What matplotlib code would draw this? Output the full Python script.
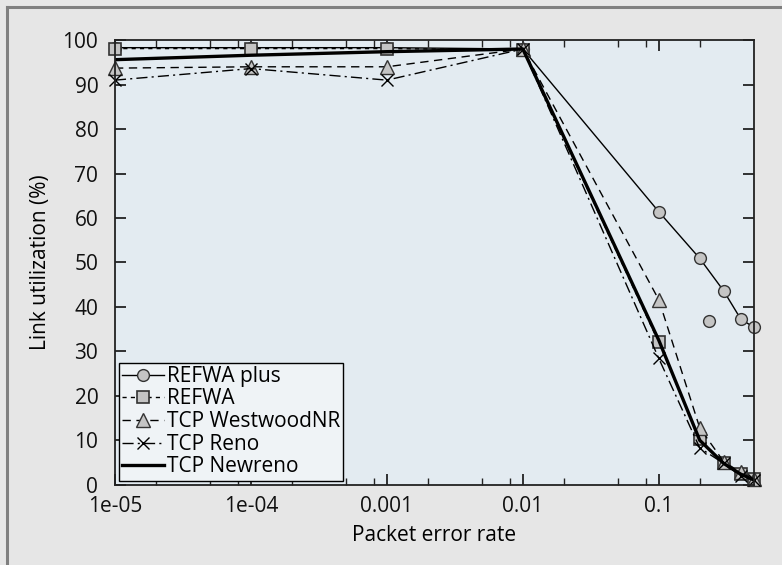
import numpy as np
import matplotlib.pyplot as plt
from matplotlib.lines import Line2D
from matplotlib.ticker import FixedLocator, FixedFormatter

plt.rcParams['font.family'] = ['Open Sans', 'DejaVu Sans']

# packet error rates
per = [1e-5, 1e-4, 1e-3, 1e-2, 0.1, 0.2, 0.3, 0.4, 0.5]

# link utilization (%)
refwa_plus = [98.3, 98.3, 98.3, 98.0, 61.4, 50.9, 43.6, 37.3, 35.4]
refwa_plus_extra_x = [0.235]
refwa_plus_extra_y = [36.9]
refwa = [98.1, 98.1, 98.1, 97.8, 32.0, 10.3, 4.8, 2.4, 1.2]
westwood = [93.7, 94.0, 94.0, 98.0, 41.6, 12.8, 5.2, 2.8, 1.2]
reno = [91.0, 93.6, 91.0, 98.0, 28.4, 8.3, 4.8, 2.0, 1.0]
newreno = [95.6, 96.6, 97.4, 98.0, 32.5, 10.0, 4.8, 2.4, 1.1]

xticks = [1e-5, 1e-4, 1e-3, 1e-2, 0.1]
xticklabels = ['1e-05', '1e-04', '0.001', '0.01', '0.1']

fig = plt.figure(figsize=(7.82, 5.65), dpi=100, facecolor='#e6e6e6')
ax = fig.add_axes([0.147, 0.142, 0.817, 0.787], facecolor='#e3ebf1')

# frame of the figure, top and left
fig.add_artist(Line2D([0.0085, 1.0], [0.988, 0.988], color='#7f7f7f', lw=2.2,
                      transform=fig.transFigure))
fig.add_artist(Line2D([0.0085, 0.0085], [0.0, 0.988], color='#7f7f7f', lw=2.2,
                      transform=fig.transFigure))

mfc = '#c4c4c4'
fs = 15
ax.plot(per, refwa_plus, '-', color='black', lw=1.0, marker='o', ms=8.5,
        mfc=mfc, mec='#333333', mew=1.0, label='REFWA plus', clip_on=False)
ax.plot(refwa_plus_extra_x, refwa_plus_extra_y, 'o', ms=8.5, mfc=mfc,
        mec='#333333', mew=1.0)
ax.plot(per, refwa, color='black', lw=1.0, ls=(0, (3, 3)), marker='s', ms=8.5,
        mfc=mfc, mec='#333333', mew=1.2, label='REFWA', clip_on=False)
ax.plot(per, westwood, color='black', lw=1.0, ls=(0, (6, 4)), marker='^', ms=9.5,
        mfc=mfc, mec='#333333', mew=1.0, label='TCP WestwoodNR', clip_on=False)
ax.plot(per, reno, color='black', lw=1.0, ls=(0, (8, 3, 1.5, 3)), marker='x',
        ms=9, mec='black', mew=1.0, label='TCP Reno', clip_on=False)
ax.plot(per, newreno, '-', color='black', lw=2.4, label='TCP Newreno')

ax.set_xscale('log')
ax.set_xlim(1e-5, 0.5)
ax.set_ylim(0, 100)

minors = []
for d in [1e-5, 1e-4, 1e-3, 1e-2]:
    minors += [2 * d, 5 * d, 8 * d]
minors += [0.2]
ax.xaxis.set_major_locator(FixedLocator(xticks))
ax.xaxis.set_major_formatter(FixedFormatter(xticklabels))
ax.xaxis.set_minor_locator(FixedLocator(minors))
ax.xaxis.set_minor_formatter(FixedFormatter([''] * len(minors)))
ax.set_yticks(np.arange(0, 101, 10))

ax.tick_params(which='both', direction='in', top=True, right=True,
               labelsize=fs, colors='#222222', labelcolor='#111111')
ax.tick_params(which='major', length=8, width=1.3)
ax.tick_params(axis='y', which='major', pad=12)
ax.tick_params(axis='x', which='major', pad=8)
ax.tick_params(which='minor', length=5, width=1.0)
for s in ax.spines.values():
    s.set_linewidth(1.3)
    s.set_color('#222222')

ax.set_xlabel('Packet error rate', fontsize=fs, labelpad=6)
ax.set_ylabel('Link utilization (%)', fontsize=fs, labelpad=8)

leg = ax.legend(loc='lower left', fontsize=fs, frameon=True, fancybox=False,
                borderpad=0.15, labelspacing=0.08, handlelength=2.0,
                handletextpad=0.15, borderaxespad=0.2, framealpha=1.0)
leg.get_frame().set_facecolor('#eff3f6')
leg.get_frame().set_edgecolor('black')
leg.get_frame().set_linewidth(1.0)

fig.savefig('out.png', dpi=100, facecolor=fig.get_facecolor())
